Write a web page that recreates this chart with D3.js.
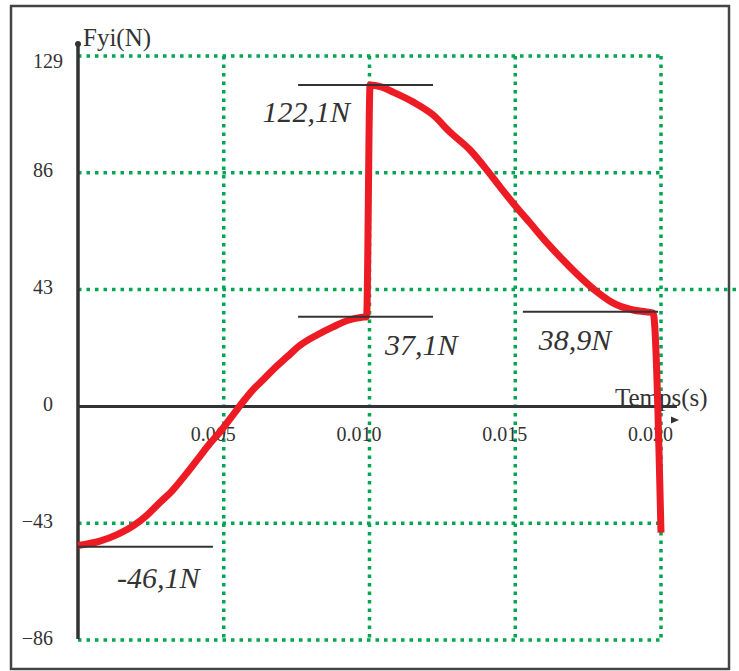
<!DOCTYPE html>
<html>
<head>
<meta charset="utf-8">
<script src="https://cdn.jsdelivr.net/npm/d3@7"></script>
<style>
  body { margin: 0; background: #fff; }
  svg { display: block; }
</style>
</head>
<body>
<svg id="chart"></svg>
<script>
// Time (s) and force Fyi (N)
const times = [0, 0.00075, 0.00134, 0.00189, 0.00237, 0.00281, 0.00326, 0.00367, 0.00408, 0.00453,
    0.00487, 0.00532, 0.00566, 0.00600, 0.00635, 0.00669, 0.00717, 0.00762, 0.00820, 0.00875,
    0.00933, 0.00975, 0.00990, 0.01002, 0.01040, 0.01081, 0.01149, 0.01218, 0.01276, 0.01345,
    0.01403, 0.01448, 0.01492, 0.01551, 0.01609, 0.01664, 0.01722, 0.01780, 0.01835, 0.01904,
    0.01950, 0.01973, 0.02000];
const forces = [-51.2, -49.6, -47.2, -44.0, -40.0, -35.4, -30.7, -25.4, -19.8, -13.6,
    -9.4, -3.1, 1.7, 6.1, 9.8, 13.5, 18.2, 22.5, 26.3, 29.3,
    31.9, 32.8, 33.0, 118.3, 117.6, 115.7, 112.1, 107.3, 101.0, 94.4,
    87.0, 80.8, 74.9, 67.5, 60.2, 53.9, 47.7, 42.2, 38.1, 35.5,
    34.8, 34.4, -46.5];

const yTicks = [-86, -43, 0, 43, 86, 129];
const xTicks = [0.005, 0.010, 0.015, 0.020];
const yGrid = [-86, -43, 43, 86, 129];

// reference marks: start time, end time, level, label, label position
const markT0 = [0, 0.00755, 0.00755, 0.01526];
const markT1 = [0.00463, 0.01218, 0.01218, 0.01990];
const markV = [-51.7, 118.3, 33.0, 34.8];
const markLabels = ["-46,1N", "122,1N", "37,1N", "38,9N"];
const labelT = [0.00134, 0.00933, 0.01053, 0.01581];
const labelV = [-66.7, 104.7, 19.0, 20.8];
const labelAnchor = ["start", "end", "start", "start"];

const serif = "'Liberation Serif', 'Times New Roman', serif";
const width = 739;
const height = 671;

const x = d3.scaleLinear()
    .domain([0, 0.02])
    .range([78, 661]);

const y = d3.scaleLinear()
    .domain([-86, 129])
    .range([640, 56]);

const svg = d3.select("#chart")
    .attr("width", width)
    .attr("height", height)
    .attr("viewBox", [0, 0, width, height])
    .style("font-family", serif);

// outer frame
svg.append("rect")
    .attr("x", 11)
    .attr("y", 6)
    .attr("width", 718)
    .attr("height", 663)
    .attr("fill", "none")
    .attr("stroke", "#444")
    .attr("stroke-width", 2.5);

// dotted green grid
const grid = svg.append("g")
    .attr("stroke", "#00a651")
    .attr("stroke-width", 3.5)
    .attr("stroke-dasharray", "3.5,5");

grid.selectAll("line.h")
  .data(yGrid)
  .join("line")
    .attr("class", "h")
    .attr("x1", x(0))
    .attr("x2", d => d === 43 ? width : x(0.02))
    .attr("y1", d => y(d))
    .attr("y2", d => y(d));

grid.selectAll("line.v")
  .data(xTicks)
  .join("line")
    .attr("class", "v")
    .attr("x1", d => x(d))
    .attr("x2", d => x(d))
    .attr("y1", y(129))
    .attr("y2", y(-86));

// x axis (the zero line)
const xAxis = svg.append("g")
    .attr("transform", `translate(0,${y(0)})`)
    .call(d3.axisBottom(x).tickValues(xTicks).tickFormat(d3.format(".3f")).tickSize(0).tickPadding(20))
    .call(g => g.select(".domain").remove());

xAxis.selectAll("text")
    .attr("x", -11)
    .attr("fill", "#333")
    .style("font-size", "20px")
    .style("font-family", serif);

svg.append("line")
    .attr("x1", x(0))
    .attr("x2", 677)
    .attr("y1", y(0))
    .attr("y2", y(0))
    .attr("stroke", "#333")
    .attr("stroke-width", 3);

svg.append("path")
    .attr("d", "M671,416.5L679,420L671,423.5Z")
    .attr("fill", "#333");

// y axis
const yAxis = svg.append("g")
    .attr("transform", `translate(${x(0)},0)`)
    .call(d3.axisLeft(y).tickValues(yTicks).tickSize(0).tickPadding(25))
    .call(g => g.select(".domain").remove());

yAxis.selectAll("text")
    .attr("fill", "#333")
    .attr("dy", "0.2em")
    .style("font-size", "20px")
    .style("font-family", serif)
    .filter(d => d === 129)
      .attr("x", -15)
      .attr("dy", "0.55em");

svg.append("line")
    .attr("x1", x(0))
    .attr("x2", x(0))
    .attr("y1", 43)
    .attr("y2", y(-86) - 1)
    .attr("stroke", "#333")
    .attr("stroke-width", 3.5);

svg.append("circle")
    .attr("cx", x(0))
    .attr("cy", 44)
    .attr("r", 3)
    .attr("fill", "#333");

// axis titles
svg.append("text")
    .attr("x", 83)
    .attr("y", 46)
    .attr("fill", "#333")
    .style("font-size", "25px")
    .text("Fyi(N)");

svg.append("text")
    .attr("x", 615)
    .attr("y", 406)
    .attr("fill", "#333")
    .style("font-size", "25px")
    .text("Temps(s)");

// force curve
const line = d3.line()
    .x(i => x(times[i]))
    .y(i => y(forces[i]))
    .curve(d3.curveMonotoneX);

svg.append("path")
    .attr("d", line(d3.range(times.length)))
    .attr("fill", "none")
    .attr("stroke", "#ed1c24")
    .attr("stroke-width", 7)
    .attr("stroke-linejoin", "round");

// reference marks and values
const marks = svg.append("g")
  .selectAll("g")
  .data(d3.range(markLabels.length))
  .join("g");

marks.append("line")
    .attr("x1", i => x(markT0[i]))
    .attr("x2", i => x(markT1[i]))
    .attr("y1", i => y(markV[i]))
    .attr("y2", i => y(markV[i]))
    .attr("stroke", "#333")
    .attr("stroke-width", 2);

marks.append("text")
    .attr("x", i => x(labelT[i]))
    .attr("y", i => y(labelV[i]))
    .attr("text-anchor", i => labelAnchor[i])
    .attr("fill", "#333")
    .style("font-family", serif)
    .style("font-size", "30px")
    .style("font-style", "italic")
    .text(i => markLabels[i]);
</script>
</body>
</html>
